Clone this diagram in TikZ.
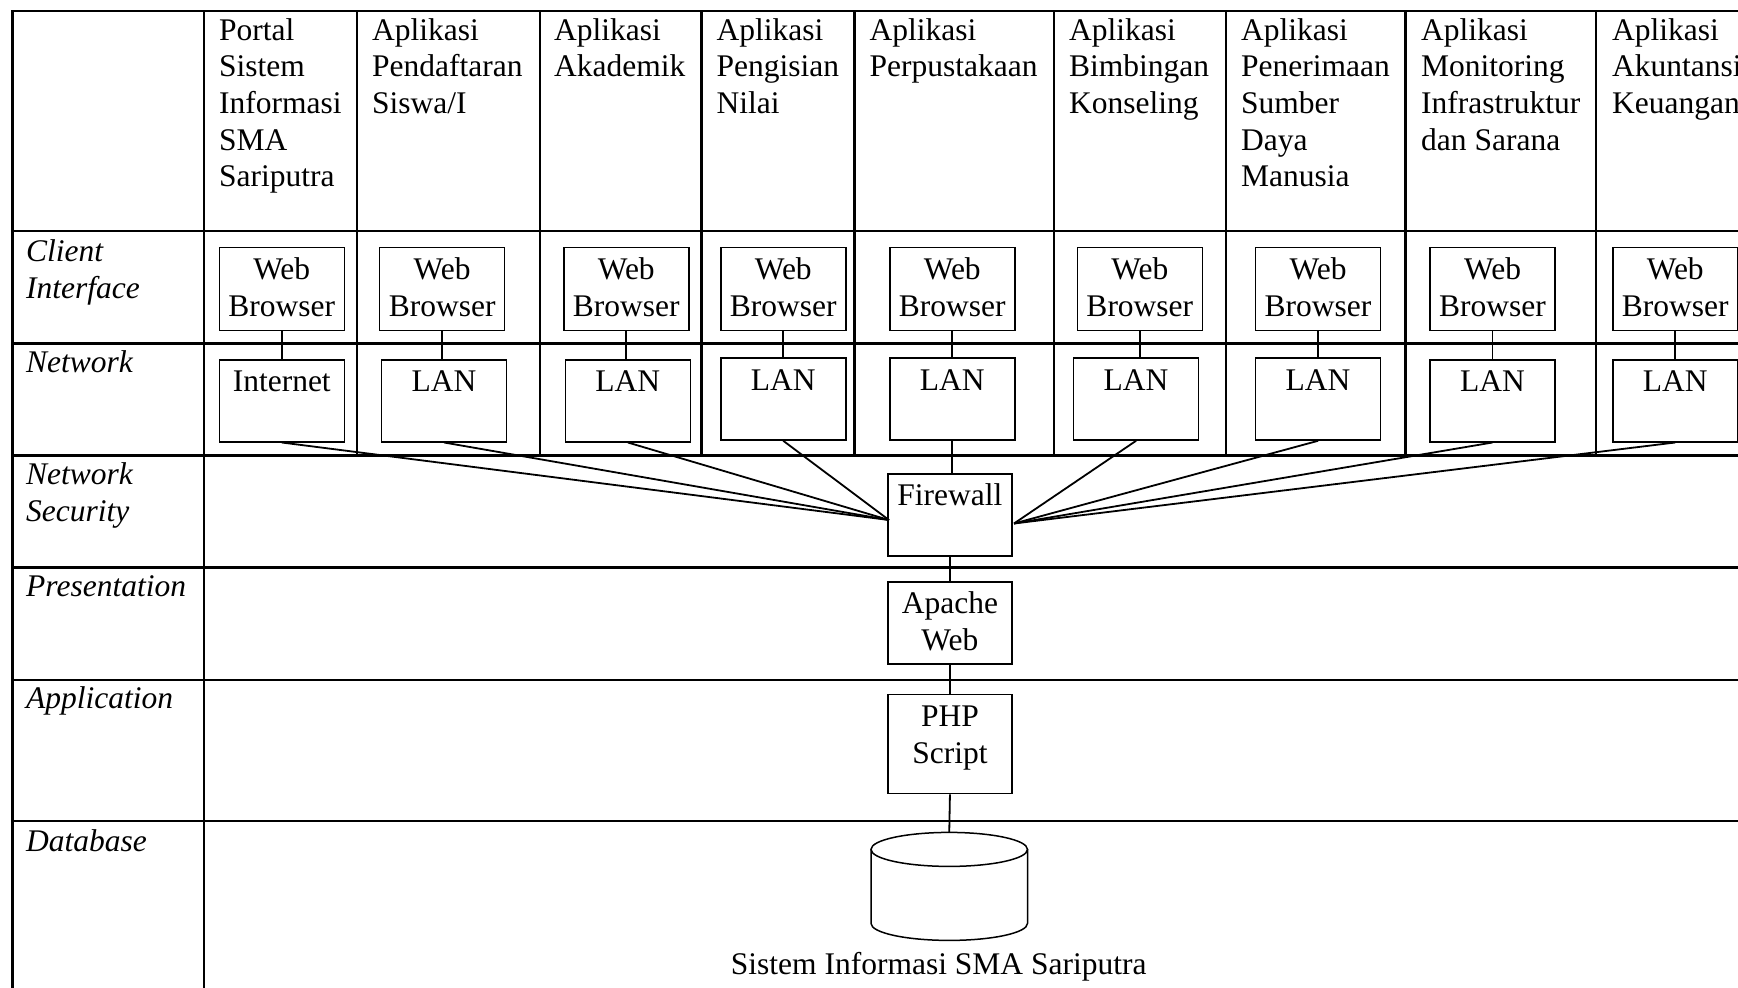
\documentclass[tikz,border=0pt]{standalone}
\usepackage{fontspec}
\setmainfont{Liberation Serif}
\begin{document}
\begin{tikzpicture}[x=1pt,y=-1pt,
  font=\fontsize{31.5}{36.6}\selectfont,
  grid/.style={line width=2.6pt, line cap=rect},
  wire/.style={line width=1.8pt},
  box/.style={draw, line width=1.5pt, inner xsep=0pt, inner ysep=10pt,
    text height=22pt, align=center, anchor=north west},
  browser/.style={box, text width=125pt, text depth=41pt},
  net/.style={box, text width=125pt, text depth=40pt},
  srv/.style={box, text width=124.4pt},
  hdr/.style={anchor=north west, inner sep=0pt, align=left},
  layer/.style={hdr, font=\fontsize{31.5}{36.6}\selectfont\itshape},
]
\useasboundingbox (0,0) rectangle (1738,988);
\clip (0,0) rectangle (1738,988);

% table rules
\foreach \y in {11,231,343.3,455.7,567.4,679.8,821}
  \draw[grid] (12.5,\y) -- (1760,\y);
\draw[grid] (12.5,11) -- (12.5,1000);
\draw[grid] (204,11) -- (204,1000);
\foreach \x in {356.9,539.8,701.6,854.6,1054.1,1225.9,1405.5,1596.1}
  \draw[grid] (\x,11) -- (\x,455.7);

% layer names
\node[layer] (lclient) at (26,239.7) {\rule{0pt}{22pt}Client\\Interface};
\node[layer] (lnet) at (26,350.7) {\rule{0pt}{22pt}Network};
\node[layer] (lsec) at (26,462.7) {\rule{0pt}{22pt}Network\\Security};
\node[layer] (lpres) at (26,574.4) {\rule{0pt}{22pt}Presentation};
\node[layer] (lapp) at (26,686) {\rule{0pt}{22pt}Application};
\node[layer] (ldb) at (26,829) {\rule{0pt}{22pt}Database};

% application headers
\node[hdr] (h1) at (219,18) {\rule{0pt}{22pt}Portal\\Sistem\\Informasi\\SMA\\Sariputra};
\node[hdr] (h2) at (372,18) {\rule{0pt}{22pt}Aplikasi\\Pendaftaran\\Siswa/I};
\node[hdr] (h3) at (554,18) {\rule{0pt}{22pt}Aplikasi\\Akademik};
\node[hdr] (h4) at (716.5,18) {\rule{0pt}{22pt}Aplikasi\\Pengisian\\Nilai};
\node[hdr] (h5) at (869.5,18) {\rule{0pt}{22pt}Aplikasi\\Perpustakaan};
\node[hdr] (h6) at (1069,18) {\rule{0pt}{22pt}Aplikasi\\Bimbingan\\Konseling};
\node[hdr] (h7) at (1241,18) {\rule{0pt}{22pt}Aplikasi\\Penerimaan\\Sumber\\Daya\\Manusia};
\node[hdr] (h8) at (1421,18) {\rule{0pt}{22pt}Aplikasi\\Monitoring\\Infrastruktur\\dan Sarana};
\node[hdr] (h9) at (1612,18) {\rule{0pt}{22pt}Aplikasi\\Akuntansi\\Keuangan};

% client browsers
\node[browser] (b1) at (218.5,246.7) {Web\\Browser};
\node[browser] (b2) at (378.9,246.7) {Web\\Browser};
\node[browser] (b3) at (563,246.7) {Web\\Browser};
\node[browser] (b4) at (720,246.7) {Web\\Browser};
\node[browser] (b5) at (889,246.7) {Web\\Browser};
\node[browser] (b6) at (1076.6,246.7) {Web\\Browser};
\node[browser] (b7) at (1254.8,246.7) {Web\\Browser};
\node[browser] (b8) at (1429.3,246.7) {Web\\Browser};
\node[browser] (b9) at (1612,246.7) {Web\\Browser};

% networks
\node[net] (n1) at (218.5,359) {Internet};
\node[net] (n2) at (380.8,359) {LAN};
\node[net] (n3) at (564.6,359) {LAN};
\node[net] (n4) at (720,357.3) {LAN};
\node[net] (n5) at (889,357.3) {LAN};
\node[net] (n6) at (1072.8,357.3) {LAN};
\node[net] (n7) at (1254.8,357.3) {LAN};
\node[net] (n8) at (1429.3,359) {LAN};
\node[net] (n9) at (1612,359) {LAN};

% server stack
\node[srv, text depth=40pt] (fw) at (887,473.2) {Firewall};
\node[srv, text depth=40pt] (web) at (887,581) {Apache\\Web};
\node[srv, text depth=57pt] (php) at (887,693.8) {PHP\\Script};

\coordinate (fwL) at (889,520);
\coordinate (fwR) at (1014,523.5);
\coordinate (dbtop) at (949.25,832.4);

% connectors
\foreach \i in {1,...,9}
  \draw[wire] (b\i.south) -- (b\i.south |- n\i.north);
\foreach \i in {1,2,3,4}
  \draw[wire] (n\i.south) -- (fwL);
\foreach \i in {6,7,8,9}
  \draw[wire] (n\i.south) -- (fwR);
\draw[wire] (n5.south) -- (n5.south |- fw.north);
\draw[wire] (fw.south) -- (web.north);
\draw[wire] (web.south) -- (php.north);
\draw[wire] (php.south) -- (dbtop);

% database cylinder
\draw[line width=1.5pt] (949.25,849.4) ellipse [x radius=78.25pt, y radius=17pt];
\draw[line width=1.5pt] (871,849.4) -- (871,923.4)
  arc[start angle=180, end angle=360, x radius=78.25pt, y radius=17pt]
  -- (1027.5,849.4);
\node[anchor=base] (dbname) at (938.7,974) {Sistem Informasi SMA Sariputra};
\end{tikzpicture}
\end{document}
